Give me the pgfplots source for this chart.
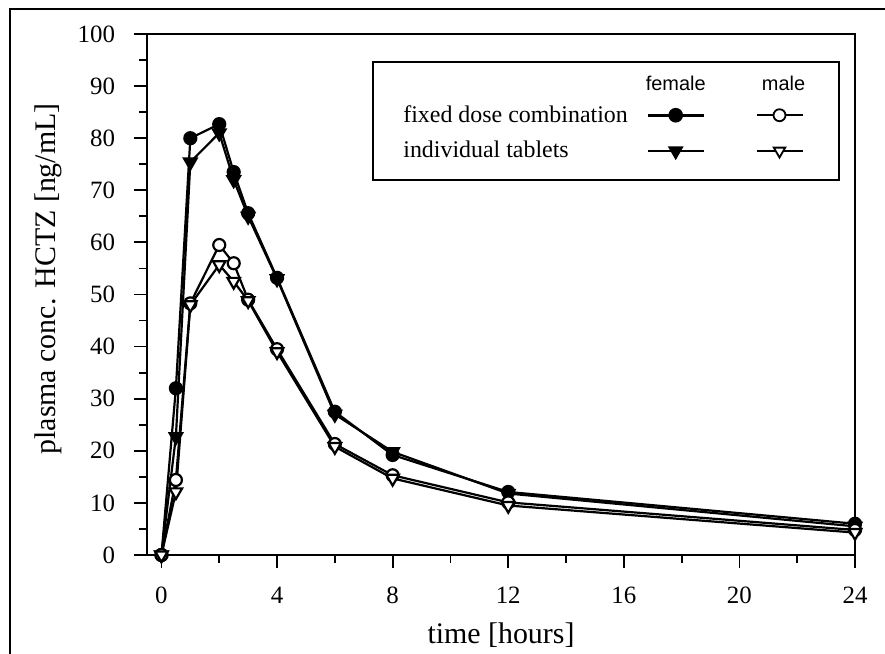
\documentclass[border=0pt]{standalone}
\usepackage{pgfplots}
\pgfplotsset{compat=1.18}
\usepackage{pgfplotstable}
\usepackage{fontspec}
\setmainfont{Liberation Serif}
\newfontfamily\hdr{Liberation Sans}
\pgfplotstableread{
t    fF    fI    mF    mI
0    0     0     0     0
0.5  32    22.7  14.4  12.1
1    80    75.4  48.3  48
2    82.7  81    59.5  55.7
2.5  73.5  72    56    52.5
3    65.6  65    49    48.8
4    53.2  53    39.5  39
6    27.5  27    21.3  20.8
8    19.2  19.8  15.3  14.7
12   12.1  11.8  10.1  9.5
24   6.0   5.5   4.8   4.3
}\datatab
\begin{document}
\begin{tikzpicture}
\begin{axis}[
  scale only axis,
  width=354bp, height=260.5bp,
  xmin=-0.5, xmax=24, ymin=0, ymax=100,
  xtick={0,4,...,24}, minor xtick={2,6,...,22},
  ytick={0,10,...,100}, minor ytick={5,15,...,95},
  xtick pos=bottom, ytick pos=left,
  tick align=outside,
  major tick length=6.5bp, minor tick length=4bp,
  axis line style={line width=1bp},
  every tick/.style={black, line width=0.9bp},
  /pgf/number format/assume math mode=true,
  ticklabel style={font=\fontsize{12.5}{14}\selectfont},
  xticklabel style={yshift=-6bp},
  yticklabel style={xshift=-6bp},
  xlabel={time [hours]},
  ylabel={plasma conc. HCTZ [ng/mL]},
  label style={font=\fontsize{15}{17}\selectfont},
  xlabel style={at={(axis description cs:0.5,-0.17)}, anchor=base},
  ylabel style={at={(axis description cs:-0.14,0.53)}, anchor=center},
  legend columns=3,
  legend cell align=left,
  legend style={at={(rel axis cs:1,1)}, xshift=-7.5bp, yshift=-13.5bp, anchor=north east,
    draw=black, line width=0.9bp, inner xsep=13bp, inner ysep=7bp,
    font=\fontsize{12}{14}\selectfont, nodes={inner sep=2bp}, row sep=4bp},
]
\addplot[black, line width=1.1bp, mark=*, mark size=3bp, forget plot] table[x=t,y=fF]{\datatab};
\addplot[black, line width=1.1bp, mark=triangle*, mark size=3.6bp, mark options={rotate=180}, forget plot] table[x=t,y=fI]{\datatab};
\addplot[black, line width=1.1bp, mark=*, mark size=3bp, mark options={fill=white}, forget plot] table[x=t,y=mF]{\datatab};
\addplot[black, line width=1.1bp, mark=triangle*, mark size=3.6bp, mark options={rotate=180, fill=white}, forget plot] table[x=t,y=mI]{\datatab};
\coordinate (SW) at (rel axis cs:0,0);
\coordinate (NE) at (rel axis cs:1,1);
% legend
\addlegendimage{legend image code/.code={}}\addlegendentry{}
\addlegendimage{legend image code/.code={\path (-7.5bp,0bp); \node[font=\hdr\fontsize{10}{12}\selectfont, inner sep=0pt, anchor=base] at (14bp,-3bp) {female};}}\addlegendentry{}
\addlegendimage{legend image code/.code={\path (-21bp,0bp); \node[font=\hdr\fontsize{10}{12}\selectfont, inner sep=0pt, anchor=base] at (13.5bp,-3bp) {male};}}\addlegendentry{}
\addlegendimage{legend image code/.code={}}\addlegendentry{fixed dose combination}
\addlegendimage{legend image code/.code={\path (-7.5bp,0bp); \draw[black, line width=1.3bp, mark=*, mark size=3bp, mark repeat=2, mark phase=2] plot coordinates {(0bp,0bp) (14bp,0bp) (28bp,0bp)};}}\addlegendentry{}
\addlegendimage{legend image code/.code={\path (-21bp,0bp); \draw[black, line width=0.9bp, mark=*, mark size=3bp, mark options={fill=white}, mark repeat=2, mark phase=2] plot coordinates {(0bp,0bp) (11.5bp,0bp) (23bp,0bp)};}}\addlegendentry{}
\addlegendimage{legend image code/.code={}}\addlegendentry{individual tablets}
\addlegendimage{legend image code/.code={\path (-7.5bp,0bp); \draw[black, line width=1.3bp, mark=triangle*, mark size=3.3bp, mark options={rotate=180}, mark repeat=2, mark phase=2] plot coordinates {(0bp,0bp) (14bp,0bp) (28bp,0bp)};}}\addlegendentry{}
\addlegendimage{legend image code/.code={\path (-21bp,-7bp); \draw[black, line width=0.9bp, mark=triangle*, mark size=3.3bp, mark options={rotate=180, fill=white}, mark repeat=2, mark phase=2] plot coordinates {(0bp,0bp) (11.5bp,0bp) (23bp,0bp)};}}\addlegendentry{}
\end{axis}
\draw[line width=1bp] ([xshift=-68.5bp,yshift=-60bp]SW) -- ([xshift=-68.5bp,yshift=12.5bp]SW |- NE) -- ([xshift=40bp,yshift=12.5bp]NE);
\pgfresetboundingbox
\path[use as bounding box] ([xshift=-73.5bp,yshift=-49.5bp]SW) rectangle ([xshift=15bp,yshift=17bp]NE);
\end{tikzpicture}
\end{document}
